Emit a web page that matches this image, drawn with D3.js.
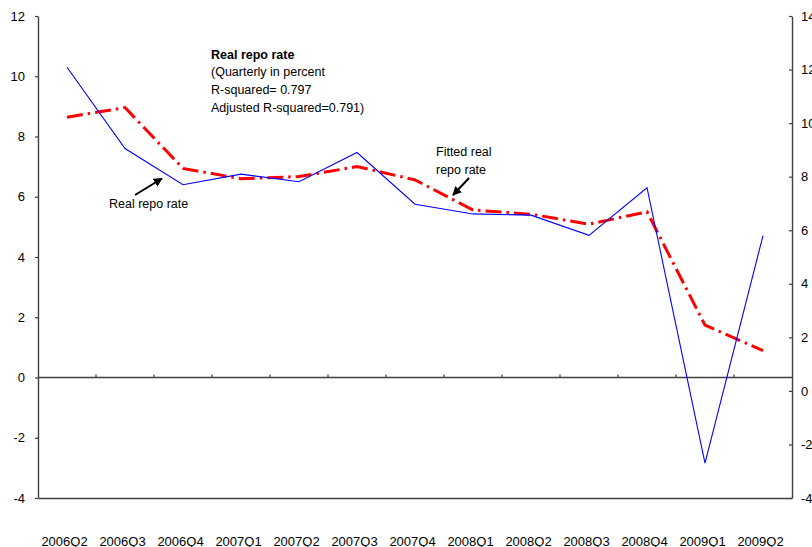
<!DOCTYPE html>
<html>
<head>
<meta charset="utf-8">
<script src="https://cdn.jsdelivr.net/npm/d3@7"></script>
<style>
  html, body { margin: 0; padding: 0; background: #fff; }
  svg { display: block; font-family: "Liberation Sans", Arial, sans-serif; }
</style>
</head>
<body>
<svg id="chart" width="812" height="547"></svg>
<script>
const categories = ["2006Q2","2006Q3","2006Q4","2007Q1","2007Q2","2007Q3","2007Q4","2008Q1","2008Q2","2008Q3","2008Q4","2009Q1","2009Q2"];
const realRepo = [10.3, 7.6, 6.4, 6.75, 6.5, 7.47, 5.75, 5.43, 5.39, 4.72, 6.3, -2.84, 4.71];
const fittedRepo = [8.64, 8.96, 6.94, 6.6, 6.67, 7.0, 6.56, 5.56, 5.42, 5.09, 5.5, 1.74, 0.89];
const leftTicks = [-4, -2, 0, 2, 4, 6, 8, 10, 12];
const rightTicks = [-4, -2, 0, 2, 4, 6, 8, 10, 12, 14];
const noteLines = ["Real repo rate", "(Quarterly in percent", "R-squared= 0.797", "Adjusted R-squared=0.791)"];

const svg = d3.select("#chart");
const L = 38, R = 792, T = 16, B = 498;
const axisColor = "#404040";
const fmt = d => String(d);

const x = d3.scaleBand().domain(categories).range([L, R]);
const yL = d3.scaleLinear().domain([-4, 12]).range([B, T]);
const yR = d3.scaleLinear().domain([-4, 14]).range([B, T]);

// Left axis
const gL = svg.append("g").attr("transform", `translate(${L},0)`)
  .call(d3.axisLeft(yL).tickValues(leftTicks).tickSizeInner(3).tickSizeOuter(0).tickPadding(10).tickFormat(fmt));
// Right axis
const gR = svg.append("g").attr("transform", `translate(${R},0)`)
  .call(d3.axisRight(yR).tickValues(rightTicks).tickSizeInner(-3).tickSizeOuter(0).tickPadding(9).tickFormat(fmt));
[gL, gR].forEach(g => {
  g.select(".domain").attr("stroke", axisColor).attr("stroke-width", 1.4);
  g.selectAll(".tick line").attr("stroke", axisColor).attr("stroke-width", 1.2);
  g.selectAll(".tick text").attr("fill", "#000").style("font-size", "13px")
    .style("font-family", "'Liberation Sans', Arial, sans-serif");
});

// Bottom axis (no ticks)
const gB = svg.append("g").attr("transform", `translate(0,${B})`)
  .call(d3.axisBottom(x).tickSize(0).tickPadding(0));
gB.select(".domain").attr("stroke", axisColor).attr("stroke-width", 1.4);
gB.selectAll(".tick text").attr("fill", "#000").attr("y", 48).attr("dy", 0).attr("dx", -2.5)
  .style("font-size", "13px").style("font-family", "'Liberation Sans', Arial, sans-serif");

// Zero line with category-boundary ticks
const y0 = yL(0);
svg.append("line").attr("x1", L).attr("x2", R).attr("y1", y0).attr("y2", y0)
  .attr("stroke", axisColor).attr("stroke-width", 1.3);
svg.append("g").selectAll("line").data(categories.slice(1)).join("line")
  .attr("x1", d => x(d)).attr("x2", d => x(d))
  .attr("y1", y0).attr("y2", y0 - 3)
  .attr("stroke", axisColor).attr("stroke-width", 1.2);

// Lines
const cx = d => x(d) + x.bandwidth() / 2;
const line = d3.line().x(d => cx(d[0])).y(d => yL(d[1]));

svg.append("path")
  .datum(categories.map((c, i) => [c, fittedRepo[i]]))
  .attr("d", line).attr("fill", "none")
  .attr("stroke", "#ff0000").attr("stroke-width", 3)
  .attr("stroke-dasharray", "16,5,2.5,5");

svg.append("path")
  .datum(categories.map((c, i) => [c, realRepo[i]]))
  .attr("d", line).attr("fill", "none")
  .attr("stroke", "#0000ff").attr("stroke-width", 1.1);

// Annotation block
const note = svg.append("text").attr("x", 211).attr("y", 58.5)
  .style("font-size", "12.5px").attr("fill", "#000");
noteLines.forEach((t, i) => {
  note.append("tspan").attr("x", 211).attr("dy", i === 0 ? 0 : 17.7)
    .style("font-weight", i === 0 ? "bold" : "normal").text(t);
});

// Arrow marker
const defs = svg.append("defs");
defs.append("marker").attr("id", "arr").attr("viewBox", "0 0 10 10")
  .attr("refX", 9).attr("refY", 5).attr("markerWidth", 4.5).attr("markerHeight", 4.5)
  .attr("orient", "auto")
  .append("path").attr("d", "M0,0 L10,5 L0,10 z").attr("fill", "#000");

// "Real repo rate" label + arrow
svg.append("text").attr("x", 109).attr("y", 208).style("font-size", "12.5px").attr("fill", "#000").text("Real repo rate");
svg.append("line").attr("x1", 135).attr("y1", 195).attr("x2", 162).attr("y2", 178.5)
  .attr("stroke", "#000").attr("stroke-width", 2).attr("marker-end", "url(#arr)");

// "Fitted real repo rate" label + arrow
const ft = svg.append("text").attr("x", 436).attr("y", 156).style("font-size", "12.5px").attr("fill", "#000");
ft.append("tspan").attr("x", 436).attr("dy", 0).text("Fitted real");
ft.append("tspan").attr("x", 436).attr("dy", 18).text("repo rate");
svg.append("line").attr("x1", 469).attr("y1", 178).attr("x2", 453).attr("y2", 195)
  .attr("stroke", "#000").attr("stroke-width", 2).attr("marker-end", "url(#arr)");
</script>
</body>
</html>
